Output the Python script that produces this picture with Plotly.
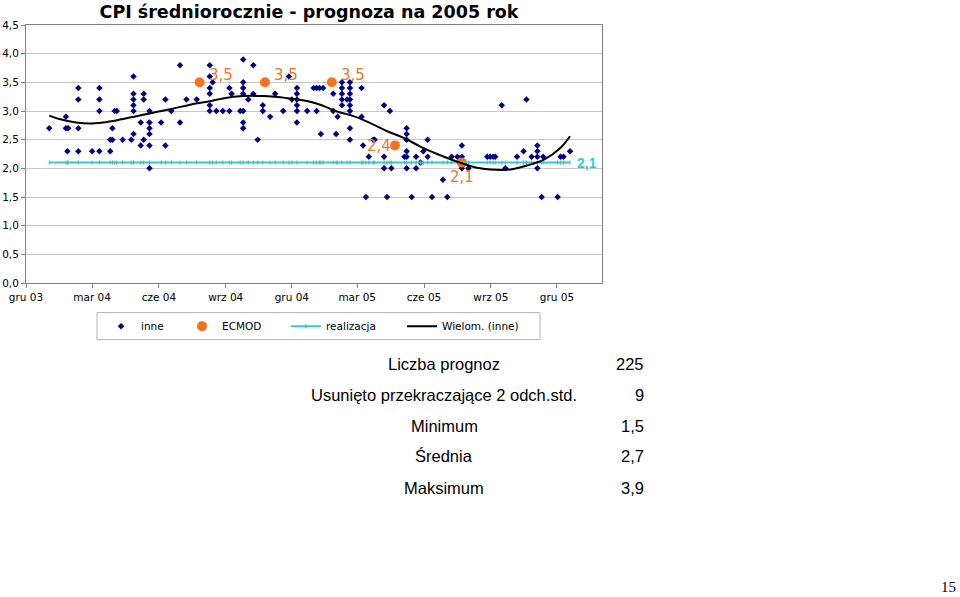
import pandas as pd
import plotly.graph_objects as go

# ---------------- data ----------------
START = pd.Timestamp("2003-12-01")

# day of forecast (counted from 1 Dec 2003) and forecast value – series "inne"
inne_dni = [32, 55, 55, 58, 57, 72, 72, 72, 72, 91, 101, 101, 101, 101, 116, 116, 119, 119,
            122, 125, 133, 145, 148, 148, 148, 148, 148, 148, 158, 158, 162, 162, 162,
            170, 170, 170, 170, 170, 170, 186, 192, 192, 200, 212, 212, 221, 235,
            253, 253, 253, 253, 253, 253, 257, 262, 271, 280, 280, 283, 295,
            299, 299, 299, 299, 299, 299, 299, 306, 313, 313, 319, 326, 326, 336, 343,
            354, 362, 366, 373, 373, 373, 373, 373, 373, 387, 396, 400, 400, 404, 406,
            409, 423, 423, 427, 429, 435, 435, 435, 435, 435, 442,
            446, 446, 446, 446, 446, 446, 446, 446, 462, 462, 464, 468, 472, 478, 480,
            493, 493, 493, 497, 501, 503, 521, 524, 524, 524, 524, 524, 524, 531,
            537, 537, 543, 547, 553, 553, 559, 574, 580, 586, 594, 600, 600, 600, 609,
            635, 639, 643, 646, 655, 660, 676, 685, 689, 696, 704, 704, 704, 704,
            710, 712, 732, 736, 740, 749]
inne_wart = [2.7, 2.9, 2.7, 2.7, 2.3, 3.4, 3.2, 2.7, 2.3, 2.3, 3.4, 3.2, 3.0, 2.3, 2.5, 2.3, 2.7, 2.5,
             3.0, 3.0, 2.5, 2.5, 3.6, 3.3, 3.2, 3.1, 3.0, 2.6, 2.8, 2.4, 3.3, 3.2, 2.5,
             3.0, 2.8, 2.7, 2.6, 2.4, 2.0, 2.8, 3.2, 2.4, 3.0, 3.8, 2.8, 3.2, 3.2,
             3.8, 3.6, 3.4, 3.3, 3.1, 3.0, 3.5, 3.0, 3.0, 3.4, 3.0, 3.3, 3.0,
             3.9, 3.5, 3.4, 3.3, 3.0, 2.8, 2.7, 3.2, 3.8, 3.3, 2.5, 3.1, 3.0, 2.9, 3.3,
             3.0, 3.6, 3.2, 3.4, 3.3, 3.2, 3.1, 3.0, 2.8, 3.0, 3.4, 3.4, 3.0, 3.4, 2.6,
             3.4, 3.3, 3.0, 2.6, 2.9, 3.5, 3.4, 3.3, 3.2, 3.1, 3.2,
             3.5, 3.4, 3.3, 3.2, 3.1, 3.0, 2.7, 2.5, 3.4, 2.9, 2.4, 1.5, 2.2, 2.5, 2.5,
             3.1, 2.2, 2.0, 1.5, 3.0, 2.0, 2.2, 2.7, 2.6, 2.5, 2.3, 2.2, 2.0, 1.5,
             2.2, 2.0, 2.1, 2.3, 2.5, 2.2, 1.5, 1.8, 1.5, 2.2, 2.2, 2.4, 2.2, 2.0, 2.0,
             2.2, 2.2, 2.2, 2.2, 3.1, 2.0, 2.2, 2.3, 3.2, 2.2, 2.4, 2.3, 2.2, 2.0,
             1.5, 2.2, 1.5, 2.2, 2.2, 2.3]

# ECMOD forecasts
ecmod_dni = [239, 329, 421, 508, 600]
ecmod_wart = [3.5, 3.5, 3.5, 2.4, 2.1]
ecmod_etyk = ["3,5", "3,5", "3,5", "2,4", "2,1"]

# realised value
realizacja = 2.1

# polynomial trend "Wielom. (inne)"
trend_dni = [32, 46, 69, 87, 106, 129, 152, 175, 202, 226, 253, 271, 299, 327, 350, 373,
             391, 407, 428, 451, 474, 497, 520, 543, 566, 593, 621, 639, 667, 690, 713, 736, 749]
trend_wart = [2.92, 2.86, 2.80, 2.78, 2.80, 2.85, 2.91, 2.97, 3.04, 3.11, 3.17, 3.22, 3.26, 3.26,
              3.24, 3.20, 3.16, 3.10, 2.99, 2.91, 2.79, 2.65, 2.53, 2.38, 2.25, 2.12, 2.01, 1.98,
              1.98, 2.05, 2.15, 2.36, 2.56]

tick_daty = ["2003-12-01", "2004-03-01", "2004-06-01", "2004-09-01", "2004-12-01",
             "2005-03-01", "2005-06-01", "2005-09-01", "2005-12-01"]
tick_etyk = ["gru 03", "mar 04", "cze 04", "wrz 04", "gru 04",
             "mar 05", "cze 05", "wrz 05", "gru 05"]
y_ticks = [0, 0.5, 1.0, 1.5, 2.0, 2.5, 3.0, 3.5, 4.0, 4.5]
y_etyk = ["0,0", "0,5", "1,0", "1,5", "2,0", "2,5", "3,0", "3,5", "4,0", "4,5"]

tytul = "CPI średniorocznie - prognoza na 2005 rok"
tabela_nazwy = ["Liczba prognoz", "Usunięto przekraczające 2 odch.std.", "Minimum", "Średnia", "Maksimum"]
tabela_wart = ["225", "9", "1,5", "2,7", "3,9"]
numer_strony = "15"

# ---------------- figure ----------------
def to_dates(days):
    return START + pd.to_timedelta(days, unit="D")

FONT = "Liberation Sans, Arial, sans-serif"
WIDE = "DejaVu Sans, Verdana, sans-serif"
NAVY = "#000080"
ORANGE = "#F47320"
CYAN = "#33CCCC"

# plot area pixel geometry (for placing paper-referenced items)
L, R, T, B = 26, 602, 25, 283.3
W, H = R - L, B - T

def px(x):
    return (x - L) / W

def py(y):
    return (B - y) / H

inne_x = to_dates(inne_dni)
real_dni = sorted(set(inne_dni))
real_x = to_dates(real_dni)

fig = go.Figure()
fig.add_trace(go.Scatter(x=inne_x, y=inne_wart, mode="markers", name="inne", legend="legend",
                         marker=dict(symbol="diamond", size=5, color=NAVY)))
fig.add_trace(go.Scatter(x=to_dates(ecmod_dni), y=ecmod_wart, mode="markers", name="ECMOD",
                         legend="legend2",
                         marker=dict(symbol="circle", size=10, color=ORANGE)))
fig.add_trace(go.Scatter(x=real_x, y=[realizacja] * len(real_x), mode="lines+markers",
                         name="realizacja", legend="legend3", line=dict(color=CYAN, width=2),
                         marker=dict(symbol="line-ns", size=3, color="#55BBBB",
                                     line=dict(width=1, color="#66AAAA"))))
fig.add_trace(go.Scatter(x=to_dates(trend_dni), y=trend_wart, mode="lines",
                         name="Wielom. (inne)", legend="legend4",
                         line=dict(color="black", width=2, shape="spline")))

# ECMOD labels
ecmod_x = to_dates(ecmod_dni)
pos = [("left", "middle", 7, 7), ("left", "middle", 7, 7), ("left", "middle", 7, 7),
       ("right", "middle", -2, -1), ("center", "top", 0, -3)]
for xv, yv, t, (xa, ya, xs, ys) in zip(ecmod_x, ecmod_wart, ecmod_etyk, pos):
    fig.add_annotation(x=xv, y=yv, text=t, showarrow=False, xanchor=xa, yanchor=ya,
                       xshift=xs, yshift=ys, font=dict(family=WIDE, size=15, color="#E8782A"))

# realizacja label
fig.add_annotation(x=real_x[-1], y=realizacja, text="<b>2,1</b>", showarrow=False,
                   xanchor="left", yanchor="middle", xshift=5,
                   font=dict(family=FONT, size=14, color=CYAN))

rows_y = [364, 395, 426, 457, 489]
for nazwa, wart, yy in zip(tabela_nazwy, tabela_wart, rows_y):
    fig.add_annotation(xref="paper", yref="paper", x=px(444), y=py(yy), text=nazwa,
                       showarrow=False, xanchor="center", yanchor="middle",
                       font=dict(family=FONT, size=16.5, color="black"))
    fig.add_annotation(xref="paper", yref="paper", x=px(646), y=py(yy), text=wart,
                       showarrow=False, xanchor="right", yanchor="middle",
                       font=dict(family=FONT, size=16.5, color="black"))

fig.add_annotation(xref="paper", yref="paper", x=px(958), y=py(588), text=numer_strony,
                   showarrow=False, xanchor="right", yanchor="middle",
                   font=dict(family="Liberation Serif, Times New Roman, serif", size=15, color="black"))

# legend frame
fig.add_shape(type="rect", xref="paper", yref="paper", x0=px(97), x1=px(540),
              y0=py(340), y1=py(313), line=dict(color="#B0B0B0", width=1),
              fillcolor="rgba(0,0,0,0)")

def leg(xpix):
    return dict(orientation="h", x=px(xpix), y=py(326.5), xanchor="left", yanchor="middle",
                borderwidth=0, bgcolor="rgba(0,0,0,0)",
                font=dict(family=WIDE, size=10.5, color="black"), itemsizing="trace")

fig.update_layout(
    width=960, height=597,
    margin=dict(l=L, r=960 - R, t=T, b=597 - B, pad=0, autoexpand=False),
    paper_bgcolor="white", plot_bgcolor="white",
    title=dict(text="<b>" + tytul + "</b>", x=309 / 960, xanchor="center",
               y=1 - 12 / 597, yanchor="middle", xref="container", yref="container",
               font=dict(family=WIDE, size=17.5, color="black")),
    showlegend=True,
    legend=leg(101), legend2=leg(182), legend3=leg(286), legend4=leg(402),
    font=dict(family=FONT, size=11, color="black"),
)

fig.update_xaxes(type="date", range=["2003-12-01", "2006-02-01"], automargin=False,
                 tickvals=tick_daty, ticktext=tick_etyk, showgrid=False,
                 showline=True, linecolor="#808080", linewidth=1, mirror=True,
                 ticks="outside", ticklen=4, tickcolor="#808080",
                 tickfont=dict(family=WIDE, size=10.5, color="black"), zeroline=False)
fig.update_yaxes(range=[0, 4.5], tickvals=y_ticks, ticktext=y_etyk, automargin=False,
                 showgrid=True, gridcolor="#C8C8C8", gridwidth=1,
                 showline=True, linecolor="#808080", linewidth=1, mirror=True,
                 ticks="outside", ticklen=4, tickcolor="#808080",
                 tickfont=dict(family=WIDE, size=10.5, color="black"), zeroline=False)

fig.write_html("out.html", config={"displayModeBar": False},
               post_script="document.body.style.margin='0';document.body.style.padding='0';")
